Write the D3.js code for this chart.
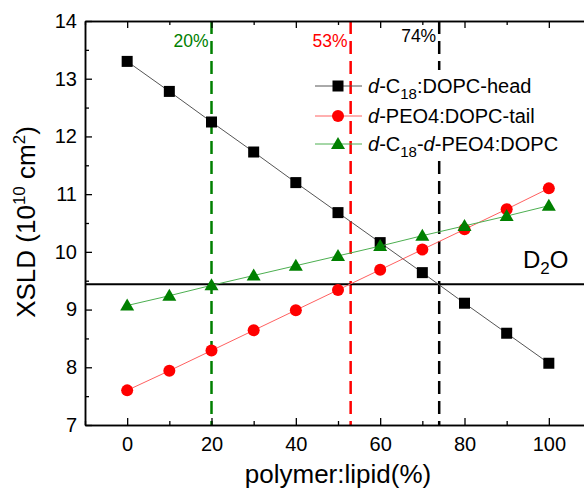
<!DOCTYPE html>
<html><head><meta charset="utf-8">
<script src="https://cdn.jsdelivr.net/npm/d3@7"></script>
<style>body{margin:0;background:#fff}svg{display:block;font-family:Arial,"Liberation Sans",sans-serif}</style>
</head><body>
<script>
const xValues = [0,10,20,30,40,50,60,70,80,90,100];
const headValues = [13.30,12.78,12.25,11.73,11.20,10.68,10.16,9.64,9.11,8.59,8.07];
const tailValues = [7.60,7.94,8.29,8.64,8.99,9.34,9.69,10.04,10.39,10.74,11.10];
const bothValues = [9.07,9.24,9.42,9.59,9.76,9.93,10.10,10.28,10.45,10.62,10.80];
const d2oValue = 9.44;
const markerLines = [20,53,74];
const markerLabels = ["20%","53%","74%"];
const xTicks = [0,20,40,60,80,100];
const yTicks = [7,8,9,10,11,12,13,14];

const W=584,H=491;
const svg=d3.select("body").append("svg").attr("width",W).attr("height",H);
const x=d3.scaleLinear().domain([-10,110]).range([85,591]);
const y=d3.scaleLinear().domain([7,14]).range([425,21]);

// vertical dashed lines
const vcols=["#008000","#ff0000","#000000"];
markerLines.forEach((v,i)=>{
  svg.append("line").attr("x1",x(v)).attr("x2",x(v)).attr("y1",y(14)).attr("y2",y(7))
    .attr("stroke",vcols[i]).attr("stroke-width",2.5).attr("stroke-dasharray","13,7");
});
const labYs=[47,47,42];
markerLabels.forEach((t,i)=>{
  svg.append("text").attr("x",x(markerLines[i])-3).attr("y",labYs[i]).attr("text-anchor","end")
    .attr("font-size",17.5).attr("fill",vcols[i]).text(t);
});

// D2O line
svg.append("line").attr("x1",x(-10)).attr("x2",x(110)).attr("y1",y(d2oValue)).attr("y2",y(d2oValue))
  .attr("stroke","#000").attr("stroke-width",2);
const dt=svg.append("text").attr("x",523).attr("y",268).attr("font-size",24);
dt.append("tspan").text("D");
dt.append("tspan").attr("font-size",17).attr("dy",6).text("2");
dt.append("tspan").attr("dy",-6).text("O");

// series
const line=d3.line().x(d=>x(d[0])).y(d=>y(d[1]));
const series=[
 {vals:headValues,color:"#000",lc:"#555",shape:"square"},
 {vals:tailValues,color:"#ff0000",lc:"#ff6060",shape:"circle"},
 {vals:bothValues,color:"#008000",lc:"#4caf50",shape:"triangle"}
];
function marker(g,shape,cx,cy,color){
  if(shape==="square") g.append("rect").attr("x",cx-5.5).attr("y",cy-5.5).attr("width",11).attr("height",11).attr("fill",color);
  else if(shape==="circle") g.append("circle").attr("cx",cx).attr("cy",cy).attr("r",6).attr("fill",color);
  else g.append("path").attr("d",`M${cx},${cy-7}L${cx+7},${cy+5}L${cx-7},${cy+5}Z`).attr("fill",color);
}
series.forEach(s=>{
  const pts=xValues.map((v,i)=>[v,s.vals[i]]);
  svg.append("path").attr("d",line(pts)).attr("fill","none").attr("stroke",s.lc).attr("stroke-width",1);
  const g=svg.append("g");
  pts.forEach(p=>marker(g,s.shape,x(p[0]),y(p[1]),s.color));
});

// legend
const legY=[86,116,144];
const leg=svg.append("g");
leg.append("rect").attr("x",364).attr("y",70).attr("width",184).attr("height",90).attr("fill","#fff");
series.forEach((s,i)=>{
  leg.append("line").attr("x1",315).attr("x2",362).attr("y1",legY[i]).attr("y2",legY[i]).attr("stroke",s.lc).attr("stroke-width",1);
  marker(leg,s.shape,338,legY[i],s.color);
});
function legText(yy,parts){
  const t=leg.append("text").attr("x",368).attr("y",yy+7).attr("font-size",20);
  parts.forEach(p=>{
    const ts=t.append("tspan").text(p.t);
    if(p.i) ts.attr("font-style","italic");
    if(p.sub) ts.attr("font-size",15).attr("dy",6);
    if(p.up) ts.attr("dy",-6);
  });
}
legText(legY[0],[{t:"d",i:1},{t:"-C"},{t:"18",sub:1},{t:":DOPC-head",up:1}]);
legText(legY[1],[{t:"d",i:1},{t:"-PEO4:DOPC-tail"}]);
legText(legY[2],[{t:"d",i:1},{t:"-C"},{t:"18",sub:1},{t:"-",up:1},{t:"d",i:1},{t:"-PEO4:DOPC"}]);

// axes
const minorX=d3.range(-10,111,10).filter(v=>v%20!==0);
const minorY=d3.range(7.5,14,1);
function ax(gen,tr){ return svg.append("g").attr("transform",tr).call(gen); }
ax(d3.axisBottom(x).tickValues(xTicks).tickSizeInner(-7).tickSizeOuter(0).tickPadding(12).tickFormat(d3.format("d")),`translate(0,425)`);
ax(d3.axisBottom(x).tickValues(minorX).tickSizeInner(-4).tickSizeOuter(0).tickFormat(""),`translate(0,425)`);
ax(d3.axisTop(x).tickValues(xTicks).tickSizeInner(-7).tickSizeOuter(0).tickFormat(""),`translate(0,21)`);
ax(d3.axisTop(x).tickValues(minorX).tickSizeInner(-4).tickSizeOuter(0).tickFormat(""),`translate(0,21)`);
ax(d3.axisLeft(y).tickValues(yTicks).tickSizeInner(-7).tickSizeOuter(0).tickPadding(8).tickFormat(d3.format("d")),`translate(85,0)`);
ax(d3.axisLeft(y).tickValues(minorY).tickSizeInner(-4).tickSizeOuter(0).tickFormat(""),`translate(85,0)`);
ax(d3.axisRight(y).tickValues(yTicks).tickSizeInner(-7).tickSizeOuter(0).tickFormat(""),`translate(591,0)`);
ax(d3.axisRight(y).tickValues(minorY).tickSizeInner(-4).tickSizeOuter(0).tickFormat(""),`translate(591,0)`);
svg.selectAll(".domain").attr("stroke","#000").attr("stroke-width",1.5);
svg.selectAll(".tick line").attr("stroke","#000").attr("stroke-width",1.3);
svg.selectAll(".tick text").attr("font-size",20).attr("fill","#000").attr("font-family","Arial,'Liberation Sans',sans-serif");

// axis titles
svg.append("text").attr("x",338).attr("y",483).attr("text-anchor","middle").attr("font-size",26).text("polymer:lipid(%)");
const yt=svg.append("text").attr("transform","translate(35,222) rotate(-90)").attr("text-anchor","middle").attr("font-size",26).attr("xml:space","preserve");
yt.append("tspan").text("XSLD (10");
yt.append("tspan").attr("font-size",17).attr("dy",-10).text("10");
yt.append("tspan").attr("dy",10).text("\u00a0cm");
yt.append("tspan").attr("font-size",17).attr("dy",-10).text("2");
yt.append("tspan").attr("dy",10).text(")");
</script>
</body></html>
